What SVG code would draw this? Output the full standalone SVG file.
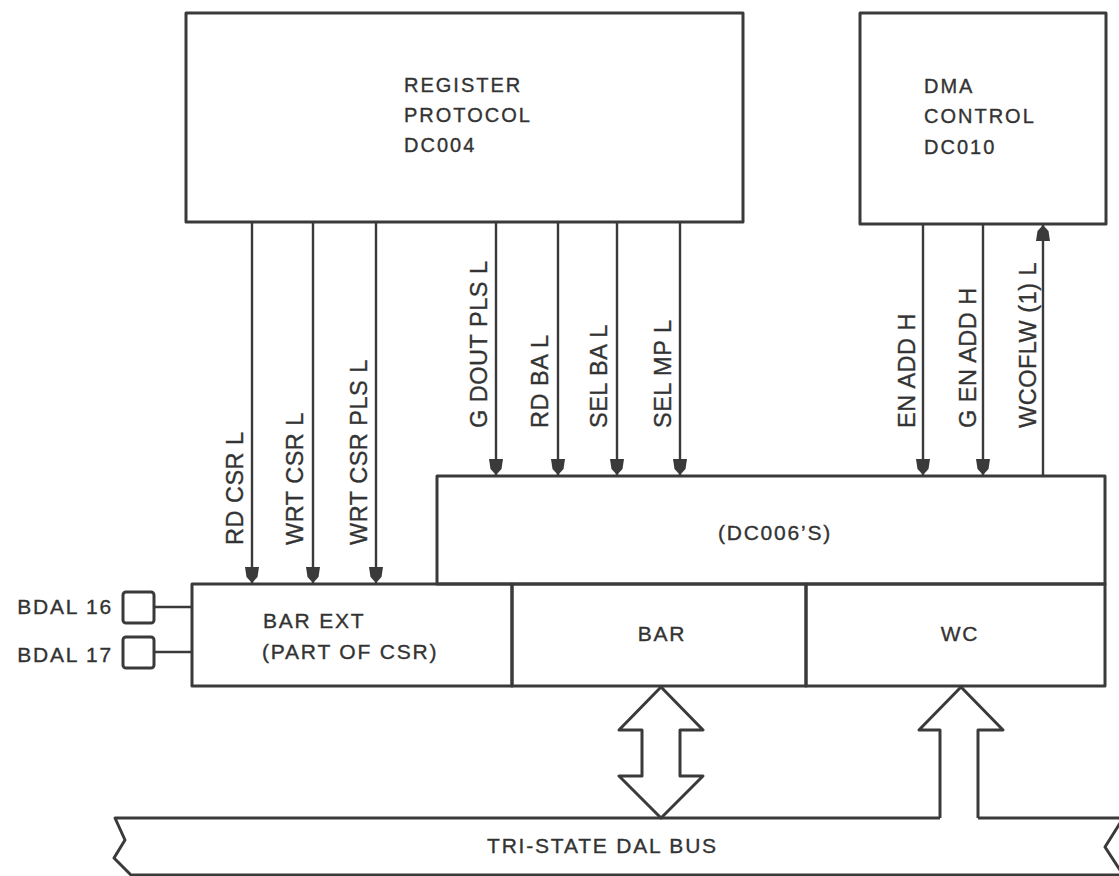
<svg xmlns="http://www.w3.org/2000/svg" width="1119" height="876" viewBox="0 0 1119 876">
<style>
.box{fill:none;stroke:#3a3a3a;stroke-width:3;stroke-linejoin:round}
.ln{fill:none;stroke:#3a3a3a;stroke-width:2.4}
.t{font-family:"Liberation Sans",Arial,Helvetica,sans-serif;fill:#333;stroke:#333;stroke-width:0.35px;font-size:20px;letter-spacing:2px}
.tb{font-family:"Liberation Sans",Arial,Helvetica,sans-serif;fill:#333;stroke:#333;stroke-width:0.35px;font-size:21px;letter-spacing:1.8px}
.r{font-family:"Liberation Sans",Arial,Helvetica,sans-serif;fill:#333;stroke:#333;stroke-width:0.35px;font-size:23.5px;letter-spacing:0.5px}
</style>
<defs>
<marker id="ah" viewBox="0 -8 16 16" refX="16" refY="0" markerWidth="16" markerHeight="16" markerUnits="userSpaceOnUse" orient="auto">
<path d="M0,-7 L10,-5.5 L16,0 L10,5.5 L0,7 Z" fill="#3a3a3a"/>
</marker>
</defs>
<rect x="0" y="0" width="1119" height="876" fill="#ffffff"/>

<g id="register-protocol">
<rect class="box" x="186" y="13" width="557" height="209"/>
<text class="t" x="404" y="92">REGISTER</text>
<text class="t" x="404" y="122">PROTOCOL</text>
<text class="t" x="404" y="152">DC004</text>
</g>

<g id="dma-control">
<rect class="box" x="860" y="13" width="246" height="211"/>
<text class="t" x="924" y="93">DMA</text>
<text class="t" x="924" y="123">CONTROL</text>
<text class="t" x="924" y="154">DC010</text>
</g>

<g id="dc006">
<rect class="box" x="437" y="476" width="668" height="108"/>
<text class="tb" x="775" y="540" text-anchor="middle">(DC006’S)</text>
</g>

<g id="bar-ext">
<rect class="box" x="192" y="584" width="320" height="102"/>
<text class="tb" x="263" y="628">BAR EXT</text>
<text class="tb" x="262" y="659">(PART OF CSR)</text>
</g>

<g id="bar">
<rect class="box" x="512" y="584" width="294" height="102"/>
<text class="tb" x="662" y="641" text-anchor="middle">BAR</text>
</g>

<g id="wc">
<rect class="box" x="806" y="584" width="299" height="102"/>
<text class="tb" x="960" y="641" text-anchor="middle">WC</text>
</g>

<g id="bdal16">
<rect class="box" x="123" y="592" width="31" height="31" rx="3"/>
<text class="tb" x="113" y="614" text-anchor="end">BDAL 16</text>
</g>

<g id="bdal17">
<rect class="box" x="123" y="637" width="31" height="31" rx="3"/>
<text class="tb" x="113" y="662" text-anchor="end">BDAL 17</text>
</g>

<g id="tri-state-dal-bus">
<path class="box" d="M940,818 L115,818 L125,840 L114,858 L132,876"/>
<path class="box" d="M978,818 L1125,818"/>
<path class="box" d="M1122,820 L1105,847 L1122,873"/>
<path class="box" d="M132,875 L1125,875"/>
<text class="tb" x="487" y="853">TRI-STATE DAL BUS</text>
</g>

<g id="connectors">
<line class="ln" x1="252" y1="222" x2="252" y2="583" marker-end="url(#ah)"/>
<line class="ln" x1="313" y1="222" x2="313" y2="583" marker-end="url(#ah)"/>
<line class="ln" x1="376" y1="222" x2="376" y2="583" marker-end="url(#ah)"/>
<line class="ln" x1="496" y1="222" x2="496" y2="475" marker-end="url(#ah)"/>
<line class="ln" x1="558" y1="222" x2="558" y2="475" marker-end="url(#ah)"/>
<line class="ln" x1="617" y1="222" x2="617" y2="475" marker-end="url(#ah)"/>
<line class="ln" x1="680" y1="222" x2="680" y2="475" marker-end="url(#ah)"/>
<line class="ln" x1="923" y1="224" x2="923" y2="475" marker-end="url(#ah)"/>
<line class="ln" x1="983" y1="224" x2="983" y2="475" marker-end="url(#ah)"/>
<line class="ln" x1="1043" y1="476" x2="1043" y2="225" marker-end="url(#ah)"/>
<line class="ln" x1="154" y1="607" x2="192" y2="607"/>
<line class="ln" x1="154" y1="652" x2="192" y2="652"/>
<path class="box" d="M661,687 L703,730 L680,730 L680,776 L703,776 L661,818 L619,776 L642,776 L642,730 L619,730 Z"/>
<path class="box" d="M940,818 L940,730 L919,730 L961,687 L1003,730 L978,730 L978,818"/>
</g>

<g id="labels">
<text class="r" transform="translate(243,545) rotate(-90)">RD CSR L</text>
<text class="r" transform="translate(303,545) rotate(-90)">WRT CSR L</text>
<text class="r" transform="translate(367,545) rotate(-90)">WRT CSR PLS L</text>
<text class="r" transform="translate(487,428) rotate(-90)">G DOUT PLS L</text>
<text class="r" transform="translate(548,428) rotate(-90)">RD BA L</text>
<text class="r" transform="translate(607,428) rotate(-90)">SEL BA L</text>
<text class="r" transform="translate(671,428) rotate(-90)">SEL MP L</text>
<text class="r" transform="translate(915,428) rotate(-90)">EN ADD H</text>
<text class="r" transform="translate(976,428) rotate(-90)">G EN ADD H</text>
<text class="r" transform="translate(1036,428) rotate(-90)">WCOFLW (1) L</text>
</g>
</svg>
